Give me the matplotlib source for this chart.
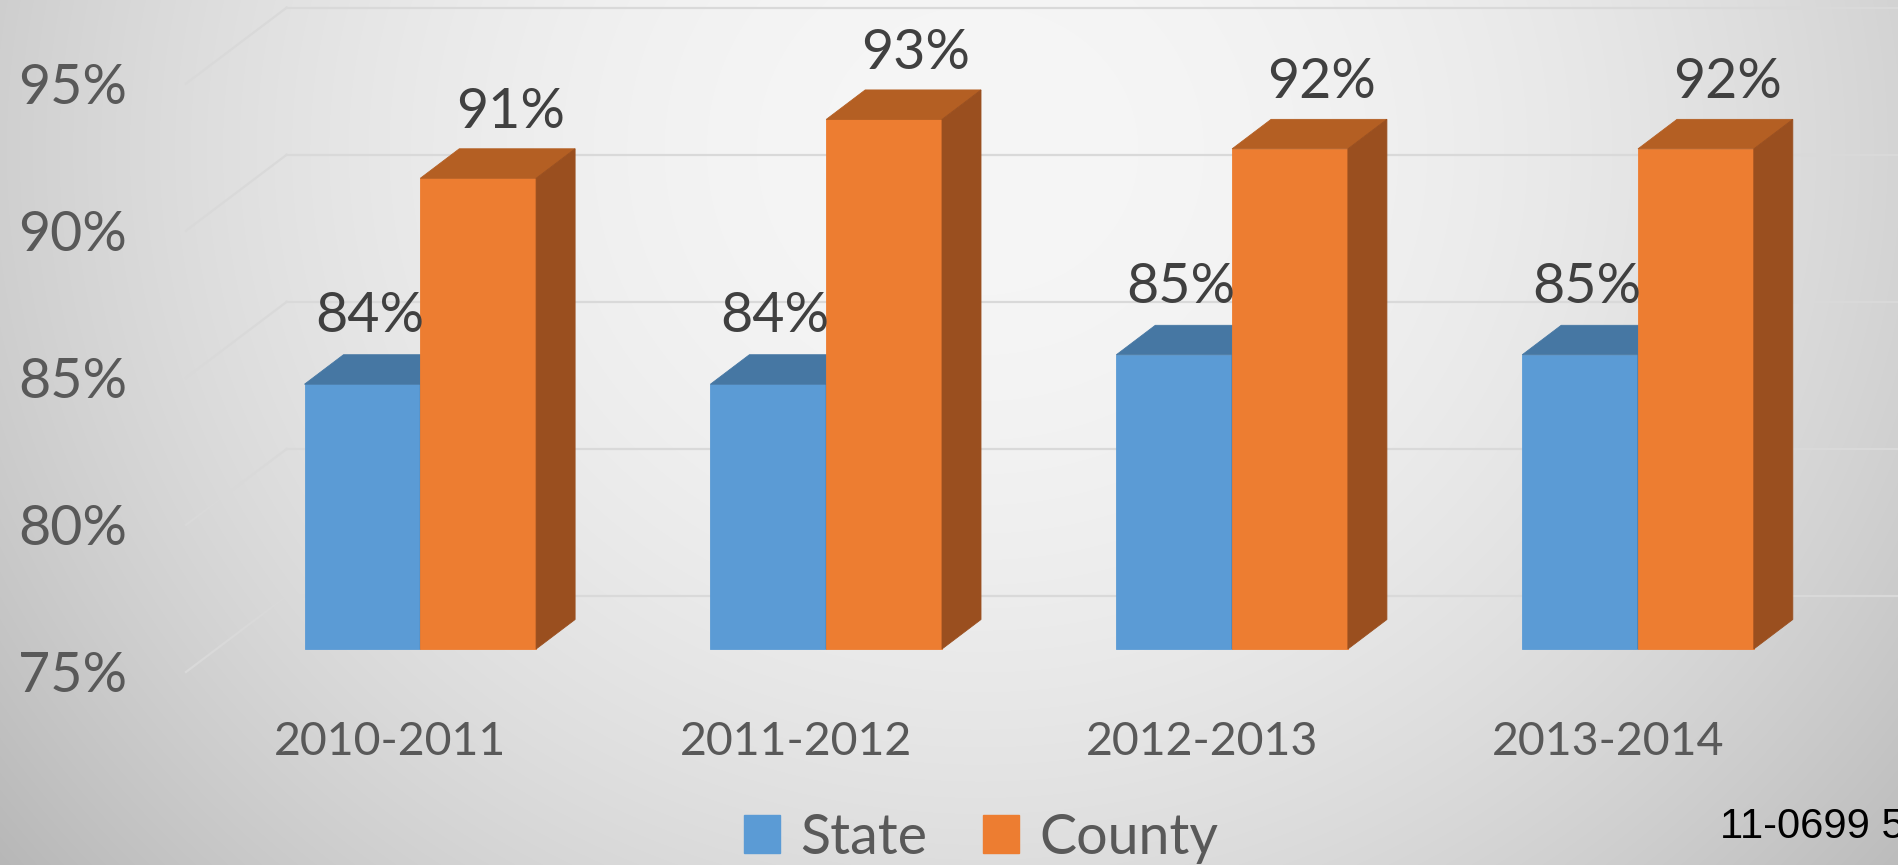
import numpy as np
import matplotlib.pyplot as plt
from matplotlib.patches import Patch

categories = ['2010-2011', '2011-2012', '2012-2013', '2013-2014']
state = [84, 84, 85, 85]
county = [91, 93, 92, 92]
yticks = [75, 80, 85, 90, 95]

W, H = 1898, 865
fig = plt.figure(figsize=(W / 100, H / 100), dpi=100)

# background: soft radial grey gradient
bg = fig.add_axes([0, 0, 1, 1], zorder=0)
yy, xx = np.mgrid[0:H, 0:W]
d = np.sqrt((1.1 * (xx - 980)) ** 2 + (1.2 * (yy - 150)) ** 2)
g = np.clip(246 - 56 * (d / 1300) ** 2, 0, 255) / 255
bg.imshow(np.dstack([g, g, g]), aspect='auto', extent=[0, 1, 0, 1], origin='upper')
bg.axis('off')

# main axes spans the whole figure, scaled so 1 category = 405.9 px, 1% = 29.42 px
ax = fig.add_axes([0, 0, 1, 1], zorder=1)
ax.patch.set_alpha(0)
px_cat, px_pct = 405.9, 29.42
ax.set_xlim(-390 / px_cat, (W - 390) / px_cat)
ax.set_ylim(75 - (H - 672) / px_pct, 75 + 672 / px_pct)
ax.axis('off')

base = 75
# oblique depth offsets (data units)
fx, fy = 30.3 / px_cat, 23 / px_pct      # bar front
dx, dy = 39 / px_cat, 29.5 / px_pct      # bar depth
wx, wy = 100.7 / px_cat, 76 / px_pct     # back wall
bw = 115.8 / px_cat
wall_x = (186 - 390) / px_cat

grid_c = '#d9d9d9'
for v in yticks:
    ax.plot([wall_x, wall_x + wx], [v, v + wy], color=grid_c, lw=1.6, zorder=1)
    ax.plot([wall_x + wx, ax.get_xlim()[1]], [v + wy, v + wy], color=grid_c, lw=1.6, zorder=1)

def bar3d(a, b, v, front, top, side):
    xs = [a + fx, b + fx, b + fx, a + fx]
    ys = [base + fy, base + fy, v + fy, v + fy]
    ax.fill(xs, ys, color=front, lw=0.6, ec=front, zorder=2)
    ax.fill([a + fx, b + fx, b + fx + dx, a + fx + dx],
            [v + fy, v + fy, v + fy + dy, v + fy + dy], color=top, lw=0.6, ec=top, zorder=2)
    ax.fill([b + fx, b + fx + dx, b + fx + dx, b + fx],
            [base + fy, base + fy + dy, v + fy + dy, v + fy], color=side, lw=0.6, ec=side, zorder=2)

lab_c = '#404040'
for i in range(len(categories)):
    bar3d(i - bw, i, state[i], '#5b9bd5', '#4677a3', '#3e6a93')
    bar3d(i, i + bw, county[i], '#ed7d31', '#b45f23', '#9a4f1f')
    ax.annotate(f'{state[i]}%', (i - bw / 2 + fx, state[i] + fy + dy), xytext=(5, 31),
                textcoords='offset points', ha='center', va='center_baseline',
                fontsize=40, family='Lato', color=lab_c, zorder=5)
    ax.annotate(f'{county[i]}%', (i + bw / 2 + fx, county[i] + fy + dy), xytext=(23, 30),
                textcoords='offset points', ha='center', va='center_baseline',
                fontsize=40, family='Lato', color=lab_c, zorder=5)

tick_c = '#595959'
for v in yticks:
    ax.text(127 / W, v, f'{v}%', transform=ax.get_yaxis_transform(), ha='right',
            va='center_baseline', fontsize=40, family='Lato', color=tick_c)
for i, c in enumerate(categories):
    ax.text(i, (H - 738) / H, c, transform=ax.get_xaxis_transform(), ha='center',
            va='center_baseline', fontsize=33.5, family='Lato', color=tick_c)

handles = [Patch(color='#5b9bd5', label='State'), Patch(color='#ed7d31', label='County')]
leg = fig.legend(handles=handles, loc='center', bbox_to_anchor=(981 / W, (H - 838) / H), ncol=2,
                 frameon=False, prop={'family': 'Lato', 'size': 40}, handlelength=0.65,
                 handleheight=0.65, handletextpad=0.36, columnspacing=1.0, borderpad=0)
for t in leg.get_texts():
    t.set_color(tick_c)

fig.text(1720 / W, (H - 822) / H, '11-0699 5', ha='left', va='center_baseline',
         fontsize=30, family='Liberation Sans', color='black')

fig.savefig('out.png', dpi=100)
